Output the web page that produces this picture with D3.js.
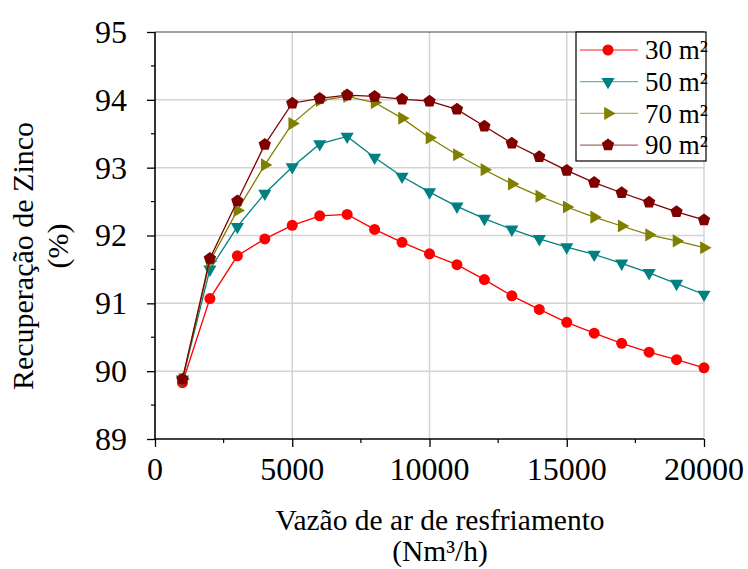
<!DOCTYPE html>
<html>
<head>
<meta charset="utf-8">
<script src="https://cdn.jsdelivr.net/npm/d3@7"></script>
</head>
<body style="margin:0">
<svg id="chart" width="748" height="569"></svg>
<script>
// Cooling air flow (Nm3/h)
const flow = [1000, 2000, 3000, 4000, 5000, 6000, 7000, 8000, 9000, 10000,
              11000, 12000, 13000, 14000, 15000, 16000, 17000, 18000, 19000, 20000];

// Zinc recovery (%) for each exchange area
const rec30 = [89.83, 91.07, 91.70, 91.95, 92.15, 92.29, 92.31, 92.09, 91.90, 91.73,
               91.57, 91.35, 91.11, 90.91, 90.72, 90.56, 90.41, 90.28, 90.17, 90.05];
const rec50 = [89.88, 91.50, 92.13, 92.62, 93.01, 93.35, 93.46, 93.15, 92.87, 92.64,
               92.43, 92.25, 92.09, 91.95, 91.83, 91.72, 91.59, 91.45, 91.29, 91.13];
const rec70 = [89.88, 91.62, 92.37, 93.04, 93.65, 93.99, 94.05, 93.96, 93.73, 93.44,
               93.19, 92.97, 92.76, 92.58, 92.42, 92.27, 92.14, 92.01, 91.92, 91.82];
const rec90 = [89.88, 91.66, 92.51, 93.34, 93.95, 94.02, 94.07, 94.05, 94.01, 93.98,
               93.86, 93.61, 93.36, 93.16, 92.96, 92.78, 92.63, 92.49, 92.35, 92.23];

const seriesNames = ["30 m²", "50 m²", "70 m²", "90 m²"];
const xTicks = [0, 5000, 10000, 15000, 20000];
const yTicks = [89, 90, 91, 92, 93, 94, 95];

const series = [
  { name: seriesNames[0], values: rec30, color: "#ff0000", shape: "circle" },
  { name: seriesNames[1], values: rec50, color: "#008080", shape: "down" },
  { name: seriesNames[2], values: rec70, color: "#808000", shape: "right" },
  { name: seriesNames[3], values: rec90, color: "#800000", shape: "pentagon" }
];

const svg = d3.select("#chart");
const L = 155, R = 704, T = 32, B = 439;

const x = d3.scaleLinear().domain([0, 20000]).range([L, R]);
const y = d3.scaleLinear().domain([89, 95]).range([B, T]);

// serif label helper
function label(parent, txt, size) {
  return parent.append("text")
    .style("font-family", '"Liberation Serif"')
    .style("font-size", size + "px")
    .attr("fill", "#000")
    .text(txt);
}

// grid
const grid = svg.append("g");
grid.selectAll("line.gx").data(xTicks.filter(d => d > 0)).join("line")
  .attr("x1", d => x(d)).attr("x2", d => x(d)).attr("y1", T).attr("y2", B)
  .attr("stroke", "#d4d4d4").attr("stroke-width", 1.5);
grid.selectAll("line.gy").data(yTicks.filter(d => d > 89 && d < 95)).join("line")
  .attr("x1", L).attr("x2", R).attr("y1", d => y(d)).attr("y2", d => y(d))
  .attr("stroke", "#d4d4d4").attr("stroke-width", 1.5);
// top frame
svg.append("line").attr("x1", L).attr("x2", R).attr("y1", T).attr("y2", T)
  .attr("stroke", "#444").attr("stroke-width", 1.2);

// axes: lines and ticks from d3, labels set as serif texts
const xAxis = d3.axisBottom(x).tickValues(xTicks).tickSize(8).tickFormat("");
const yAxis = d3.axisLeft(y).tickValues(yTicks).tickSize(8).tickFormat("");
const gx = svg.append("g").attr("transform", `translate(0,${B})`).call(xAxis);
const gy = svg.append("g").attr("transform", `translate(${L},0)`).call(yAxis);
[gx, gy].forEach(g => {
  g.selectAll(".tick text").remove();
  g.select(".domain").attr("stroke", "#000").attr("stroke-width", 1.6);
  g.selectAll(".tick line").attr("stroke", "#000").attr("stroke-width", 1.3);
});
gx.select(".domain").attr("d", `M${L},0H${R}`);
gy.select(".domain").attr("d", `M0,${B}V${T}`);

xTicks.forEach(v => {
  label(svg, d3.format("d")(v), 32).attr("x", x(v)).attr("y", 480).attr("text-anchor", "middle");
});
yTicks.forEach(v => {
  label(svg, d3.format("d")(v), 32).attr("x", 127).attr("y", y(v)).attr("dy", "0.34em").attr("text-anchor", "end");
});

// minor ticks
const minorX = [2500, 7500, 12500, 17500];
svg.append("g").selectAll("line").data(minorX).join("line")
  .attr("x1", d => x(d)).attr("x2", d => x(d)).attr("y1", B).attr("y2", B + 4)
  .attr("stroke", "#000").attr("stroke-width", 1.2);
const minorY = [89.5, 90.5, 91.5, 92.5, 93.5, 94.5];
svg.append("g").selectAll("line").data(minorY).join("line")
  .attr("x1", L - 4).attr("x2", L).attr("y1", d => y(d)).attr("y2", d => y(d))
  .attr("stroke", "#000").attr("stroke-width", 1.2);

// marker shapes
function pentagonPath(r) {
  const pts = d3.range(5).map(i => {
    const a = -Math.PI / 2 + i * 2 * Math.PI / 5;
    return [r * Math.cos(a), r * Math.sin(a)];
  });
  return "M" + pts.map(p => p.join(",")).join("L") + "Z";
}
const triPath = d3.symbol().type(d3.symbolTriangle).size(75)();
function marker(g, shape, color) {
  if (shape === "circle") {
    g.append("circle").attr("r", 5.5).attr("fill", color);
  } else if (shape === "down") {
    g.append("path").attr("d", triPath).attr("transform", "rotate(180)").attr("fill", color);
  } else if (shape === "right") {
    g.append("path").attr("d", triPath).attr("transform", "rotate(90)").attr("fill", color);
  } else {
    g.append("path").attr("d", pentagonPath(6.5)).attr("fill", color);
  }
}

const line = d3.line().x((d, i) => x(flow[i])).y(d => y(d));

series.forEach(s => {
  const g = svg.append("g");
  g.append("path").datum(s.values).attr("d", line)
    .attr("fill", "none").attr("stroke", s.color).attr("stroke-width", 1.3);
  s.values.forEach((v, i) => {
    const m = g.append("g").attr("transform", `translate(${x(flow[i])},${y(v)})`);
    marker(m, s.shape, s.color);
  });
});

// legend
const lg = svg.append("g");
lg.append("rect").attr("x", 576).attr("y", 32).attr("width", 130).attr("height", 129)
  .attr("fill", "#fff").attr("stroke", "#000").attr("stroke-width", 1.2);
series.forEach((s, i) => {
  const ry = 50 + i * 31.7;
  lg.append("line").attr("x1", 580).attr("x2", 638).attr("y1", ry).attr("y2", ry)
    .attr("stroke", s.color).attr("stroke-width", 1.3).attr("stroke-opacity", 0.6);
  const m = lg.append("g").attr("transform", `translate(608,${ry})`);
  marker(m, s.shape, s.color);
  label(lg, s.name, 27).attr("x", 645).attr("y", ry).attr("dy", "0.34em");
});

// axis titles
label(svg, "Vazão de ar de resfriamento", 29.5).attr("x", 440).attr("y", 530).attr("text-anchor", "middle");
label(svg, "(Nm³/h)", 29.5).attr("x", 440).attr("y", 561).attr("text-anchor", "middle");
label(svg, "Recuperação de Zinco", 30).attr("transform", "translate(33,256) rotate(-90)").attr("text-anchor", "middle");
label(svg, "(%)", 30).attr("transform", "translate(68,246) rotate(-90)").attr("text-anchor", "middle");
</script>
</body>
</html>
